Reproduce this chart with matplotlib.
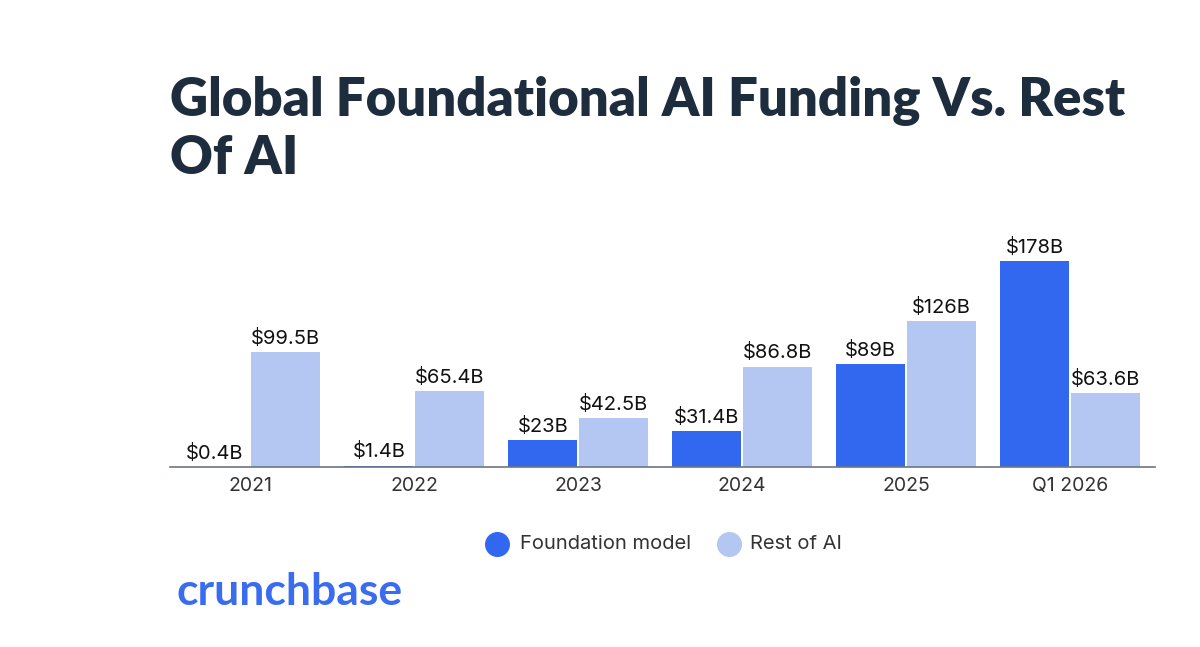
import matplotlib.pyplot as plt
import numpy as np

categories = ["2021", "2022", "2023", "2024", "2025", "Q1 2026"]
foundation = [0.4, 1.4, 23, 31.4, 89, 178]
rest_of_ai = [99.5, 65.4, 42.5, 86.8, 126, 63.6]
foundation_labels = ["$0.4B", "$1.4B", "$23B", "$31.4B", "$89B", "$178B"]
rest_labels = ["$99.5B", "$65.4B", "$42.5B", "$86.8B", "$126B", "$63.6B"]

blue = "#3268f0"
light = "#b3c7f2"
navy = "#1e2d3e"

plt.rcParams["font.family"] = ["Inter", "DejaVu Sans"]

fig = plt.figure(figsize=(12, 6.47), dpi=100)
ax = fig.add_axes([0.1417, 0.278, 0.8208, 0.358])

x = np.arange(len(categories))
w = 0.42
b1 = ax.bar(x - w / 2 - 0.006, foundation, w, color=blue)
b2 = ax.bar(x + w / 2 + 0.006, rest_of_ai, w, color=light)

for bars, labels in ((b1, foundation_labels), (b2, rest_labels)):
    for bar, lab in zip(bars, labels):
        ax.annotate(lab, (bar.get_x() + bar.get_width() / 2, bar.get_height()),
                    xytext=(0, 3), textcoords="offset points",
                    ha="center", va="bottom", fontsize=14.5, color="#111111")

ax.set_xlim(-0.49, 5.52)
ax.set_ylim(0, 200)
ax.set_xticks(x)
ax.set_xticklabels(categories, fontsize=14, color="#333333")
ax.tick_params(axis="x", length=0, pad=7)
ax.set_yticks([])
for s in ("top", "right", "left"):
    ax.spines[s].set_visible(False)
ax.spines["bottom"].set_color("#6b7785")
ax.spines["bottom"].set_linewidth(1.2)

fig.text(170 / 1200, 1 - 130 / 647, "Global Foundational AI Funding Vs. Rest\nOf AI",
         fontsize=38, fontweight="heavy", color=navy, ha="left", va="center",
         linespacing=1.2, family=["Lato", "DejaVu Sans"])

# legend
for cx, col in ((497, blue), (729, light)):
    fig.add_artist(plt.Line2D([cx / 1200], [1 - 544 / 647], marker="o", markersize=17,
                              color=col, linestyle="none", transform=fig.transFigure))
fig.text(520 / 1200, 1 - 544 / 647, "Foundation model", fontsize=14.5, color="#333333",
         ha="left", va="center")
fig.text(750 / 1200, 1 - 544 / 647, "Rest of AI", fontsize=14.5, color="#333333",
         ha="left", va="center")

fig.text(176 / 1200, 1 - 592 / 647, "crunchbase", fontsize=32, fontweight="bold",
         color="#3a6cf0", ha="left", va="center", family=["Lato", "DejaVu Sans"])

fig.savefig("out.png", dpi=100)
